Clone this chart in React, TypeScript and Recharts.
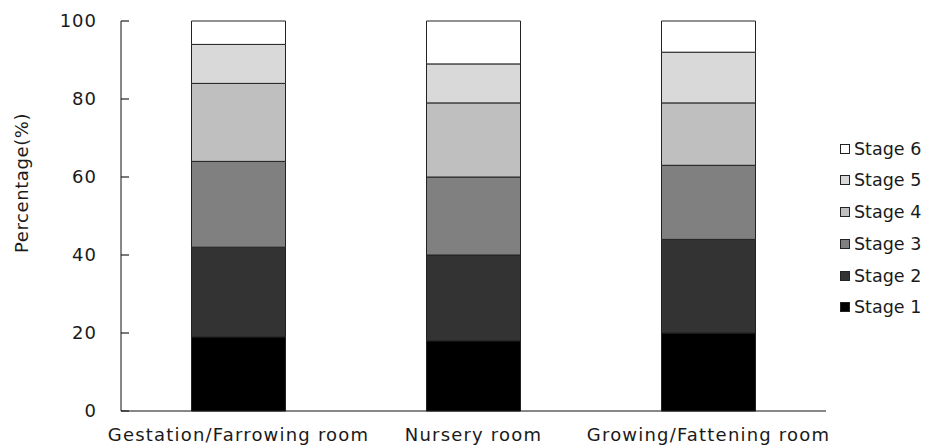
import { BarChart, Bar, XAxis, YAxis, Legend, Label } from 'recharts'

const rooms = ['Gestation/Farrowing room', 'Nursery room', 'Growing/Fattening room']
const stageNames = ['Stage 1', 'Stage 2', 'Stage 3', 'Stage 4', 'Stage 5', 'Stage 6']
const stage1 = [19, 18, 20]
const stage2 = [23, 22, 24]
const stage3 = [22, 20, 19]
const stage4 = [20, 19, 16]
const stage5 = [10, 10, 13]
const stage6 = [6, 11, 8]
const yTicks = [0, 20, 40, 60, 80, 100]

const stageFills = ['#000000', '#333333', '#808080', '#bfbfbf', '#d9d9d9', '#ffffff']
const FONT = '"DejaVu Sans", sans-serif'
const TEXT = '#1a1a1a'

const series = [stage1, stage2, stage3, stage4, stage5, stage6]
const data = rooms.map((room, i) => {
  const row: Record<string, string | number> = { room }
  stageNames.forEach((s, k) => {
    row[s] = series[k][i]
  })
  return row
})

// ticks point inward, labels sit left of the axis
function YTick({ x, y, payload }: any) {
  return (
    <g>
      <line x1={x} x2={x + 8} y1={y} y2={y} stroke="#222" strokeWidth={1.2} />
      <text
        x={x - 24}
        y={y}
        dy="0.36em"
        textAnchor="end"
        fontFamily={FONT}
        fontSize={18}
        letterSpacing={1}
        fill={TEXT}
      >
        {payload.value}
      </text>
    </g>
  )
}

function XTick({ x, y, payload }: any) {
  return (
    <text
      x={x}
      y={y}
      dy="0.72em"
      textAnchor="middle"
      fontFamily={FONT}
      fontSize={18}
      letterSpacing={1.2}
      fill={TEXT}
    >
      {payload.value}
    </text>
  )
}

function StageLegend() {
  const items = stageNames.map((name, k) => ({ name, fill: stageFills[k] })).reverse()
  return (
    <div style={{ width: 95, paddingLeft: 14, boxSizing: 'border-box', whiteSpace: 'nowrap' }}>
      {items.map((it) => (
        <div
          key={it.name}
          style={{
            display: 'flex',
            alignItems: 'center',
            height: 31.8,
            fontFamily: FONT,
            fontSize: 17.5,
            color: TEXT,
          }}
        >
          <span
            style={{
              display: 'inline-block',
              flex: '0 0 auto',
              width: 8,
              height: 8,
              border: '1px solid #222',
              background: it.fill,
              marginRight: 4,
            }}
          />
          <span>{it.name}</span>
        </div>
      ))}
    </div>
  )
}

export default function App() {
  return (
    <BarChart
      width={913}
      height={440}
      data={data}
      margin={{ top: 13, right: 0, bottom: 8, left: 0 }}
      barCategoryGap="30%"
    >
      <XAxis
        dataKey="room"
        tick={<XTick />}
        tickLine={false}
        tickSize={0}
        tickMargin={17}
        height={29}
        axisLine={{ stroke: '#111' }}
        interval={0}
      />
      <XAxis xAxisId="top" orientation="top" dataKey="room" tick={false} tickLine={false} height={0} axisLine={{ stroke: '#9a9a9a' }} />
      <YAxis
        type="number"
        domain={[0, 100]}
        ticks={yTicks}
        tick={<YTick />}
        tickLine={false}
        tickSize={0}
        tickMargin={0}
        width={113}
        axisLine={{ stroke: '#111' }}
      >
        <Label
          content={({ viewBox }: any) => {
            const cx = viewBox.x + 14
            const cy = viewBox.y + viewBox.height / 2 - 33
            return (
              <text
                x={cx}
                y={cy}
                transform={`rotate(-90, ${cx}, ${cy})`}
                textAnchor="middle"
                dy="0.36em"
                fontFamily={FONT}
                fontSize={18}
                letterSpacing={0.6}
                fill={TEXT}
              >
                Percentage(%)
              </text>
            )
          }}
        />
      </YAxis>
      <YAxis yAxisId="right" orientation="right" domain={[0, 100]} tick={false} tickLine={false} width={0} axisLine={{ stroke: '#9a9a9a' }} />
      <Legend layout="vertical" align="right" verticalAlign="middle" content={<StageLegend />} />
      {stageNames.map((s, k) => (
        <Bar
          key={s}
          dataKey={s}
          stackId="a"
          fill={stageFills[k]}
          stroke="#222"
          strokeWidth={1}
          isAnimationActive={false}
        />
      ))}
    </BarChart>
  )
}
